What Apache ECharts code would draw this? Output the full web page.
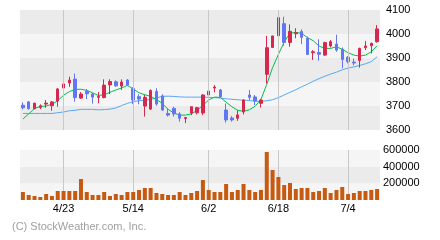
<!DOCTYPE html>
<html>
<head>
<meta charset="utf-8">
<script src="https://cdn.jsdelivr.net/npm/echarts@6/dist/echarts.min.js"></script>
<style>
html,body{margin:0;padding:0;background:#fff;}
#c{width:440px;height:240px;}
</style>
</head>
<body>
<div id="c"></div>
<script>
var dates = ['4/14','4/15','4/16','4/17','4/18','4/21','4/22','4/23','4/24','4/25','4/28','4/30','5/1','5/2','5/7','5/8','5/9','5/12','5/13','5/14','5/15','5/16','5/19','5/20','5/21','5/22','5/23','5/26','5/27','5/28','5/29','5/30','6/2','6/3','6/4','6/5','6/6','6/9','6/10','6/11','6/12','6/13','6/16','6/17','6/18','6/19','6/20','6/23','6/24','6/25','6/26','6/27','6/30','7/1','7/2','7/3','7/4','7/7','7/8','7/9','7/10','7/11'];
var labelDates = ['4/23','5/14','6/2','6/18','7/4'];
var open  = [3703,3717,3689,3694,3708,3701,3721,3775,3796,3812,3733,3761,3750,3736,3735,3788,3801,3783,3808,3772,3739,3700,3687,3761,3742,3669,3690,3667,3648,3671,3672,3671,3746,3775,3767,3683,3650,3649,3675,3746,3738,3711,3832,3944,3993,4043,3965,4001,4010,3982,3922,3923,3912,3950,3958,3936,3903,3883,3890,3943,3951,3968];
var close = [3693,3689,3712,3701,3712,3717,3771,3792,3808,3735,3750,3751,3737,3740,3787,3802,3784,3800,3787,3725,3729,3736,3765,3708,3683,3662,3667,3649,3652,3697,3693,3746,3762,3779,3739,3642,3642,3663,3725,3736,3721,3725,3943,3992,4068,3965,4011,4005,3986,3915,3926,3916,3964,3968,3933,3894,3885,3879,3940,3950,3961,4021];
var low   = [3686,3685,3686,3687,3693,3680,3697,3769,3780,3718,3729,3729,3710,3711,3732,3750,3780,3767,3783,3708,3707,3656,3683,3701,3681,3656,3656,3635,3629,3662,3665,3662,3739,3757,3736,3631,3635,3638,3665,3725,3704,3693,3794,3943,3989,3951,3947,3982,3958,3912,3892,3889,3908,3944,3926,3857,3878,3869,3860,3933,3919,3964];
var high  = [3715,3721,3712,3707,3725,3721,3775,3801,3822,3835,3758,3771,3754,3758,3811,3811,3807,3811,3812,3778,3749,3746,3769,3774,3749,3690,3697,3674,3652,3697,3697,3749,3785,3787,3771,3710,3658,3682,3728,3767,3746,3729,3992,3993,4097,4072,4040,4024,4019,3989,3933,3978,3968,3975,3997,3944,3908,3897,3943,3971,3964,4037];
var maShort = [3646,3667,3690,3698,3700,3707,3722,3745,3760,3769,3770,3765,3755,3744,3747,3757,3767,3775,3786,3771,3755,3747,3740,3727,3711,3686,3671,3662,3662,3667,3682,3703,3725,3737,3736,3716,3697,3682,3678,3684,3699,3728,3790,3860,3915,3966,4004,4006,4003,3985,3972,3950,3940,3940,3947,3936,3922,3912,3908,3912,3926,3951];
var maLong = [3669,3669,3669,3669,3669,3669,3672,3675,3680,3682,3686,3686,3686,3684,3685,3687,3692,3702,3711,3718,3722,3724,3727,3734,3740,3741,3740,3738,3737,3737,3737,3737,3736,3735,3733,3730,3728,3726,3724,3723,3720,3719,3722,3726,3735,3746,3757,3768,3780,3791,3803,3814,3824,3833,3841,3851,3858,3863,3869,3876,3885,3905];
var volume = [96000,60000,48000,36000,72000,48000,108000,108000,108000,108000,252000,96000,60000,60000,96000,48000,72000,60000,96000,96000,120000,144000,144000,84000,72000,60000,60000,96000,60000,84000,108000,240000,120000,96000,96000,192000,96000,120000,192000,120000,96000,120000,576000,360000,276000,180000,204000,132000,144000,144000,96000,108000,144000,84000,120000,156000,72000,84000,108000,108000,120000,132000];
var priceTicks = [3600,3700,3800,3900,4000,4100];
var volumeTicks = [0,200000,400000,600000];

var FONT = '"Liberation Sans", Arial, sans-serif';
var candles = dates.map(function(d,i){ return [open[i], close[i], low[i], high[i]]; });
var vlines = labelDates.map(function(d){ return {xAxis: d}; });
var vlineStyle = {color:'#c8c8c8', width:1, type:'solid'};

var chart = echarts.init(document.getElementById('c'), null, {renderer:'canvas'});
chart.setOption({
  animation: false,
  backgroundColor: '#ffffff',
  grid: [
    {left:20, top:10, width:360, height:120},
    {left:20, top:150, width:360, height:50}
  ],
  xAxis: [
    {type:'category', gridIndex:0, data:dates, boundaryGap:true,
     axisLine:{show:false}, axisTick:{show:false}, axisLabel:{show:false}, splitLine:{show:false}},
    {type:'category', gridIndex:1, data:dates, boundaryGap:true,
     axisLine:{show:false}, axisTick:{show:false}, splitLine:{show:false},
     axisLabel:{show:true, color:'#000', fontSize:11, fontFamily:FONT, margin:3,
       interval:function(idx, val){ return labelDates.indexOf(val) >= 0; }}}
  ],
  yAxis: [
    {type:'value', gridIndex:0, position:'right', min:priceTicks[0], max:priceTicks[priceTicks.length-1], interval:100,
     axisLine:{show:false}, axisTick:{show:false}, splitLine:{show:false},
     splitArea:{show:true, areaStyle:{color:['#ebebeb','#f5f5f5']}},
     axisLabel:{color:'#000', fontSize:11, fontFamily:FONT, margin:6,
       formatter:function(v){ return String(v); }}},
    {type:'value', gridIndex:1, position:'right', min:volumeTicks[0], max:volumeTicks[volumeTicks.length-1], interval:200000,
     axisLine:{show:false}, axisTick:{show:false}, splitLine:{show:false},
     splitArea:{show:true, areaStyle:{color:['#f5f5f5','#ebebeb']}},
     axisLabel:{color:'#000', fontSize:11, fontFamily:FONT, margin:3,
       formatter:function(v){ return v === 0 ? '' : String(v); }}}
  ],
  series: [
    {type:'line', xAxisIndex:0, yAxisIndex:0, data:[], z:1, silent:true,
     markLine:{silent:true, symbol:['none','none'], label:{show:false}, lineStyle:vlineStyle, data:vlines, animation:false}},
    {type:'line', xAxisIndex:1, yAxisIndex:1, data:[], z:1, silent:true,
     markLine:{silent:true, symbol:['none','none'], label:{show:false}, lineStyle:vlineStyle, data:vlines, animation:false}},
    {type:'line', name:'long', xAxisIndex:0, yAxisIndex:0, data:maLong, z:3, symbol:'none',
     lineStyle:{color:'#5aa8f5', width:1}},
    {type:'line', name:'short', xAxisIndex:0, yAxisIndex:0, data:maShort, z:3, symbol:'none',
     lineStyle:{color:'#00c050', width:1}},
    {type:'candlestick', xAxisIndex:0, yAxisIndex:0, data:candles, z:4, barWidth:3,
     itemStyle:{color:'#d6284e', color0:'#6276f2', borderColor:'#d6284e', borderColor0:'#6276f2', borderWidth:1}},
    {type:'bar', xAxisIndex:1, yAxisIndex:1, data:volume, z:5, barWidth:4,
     itemStyle:{color:'#c65a11'}}
  ],
  graphic: [
    {type:'text', left:12, top:221, style:{text:'(C) StockWeather.com, Inc.', font:'11px ' + FONT, fill:'#a0a0a0'}}
  ]
});
</script>
</body>
</html>
